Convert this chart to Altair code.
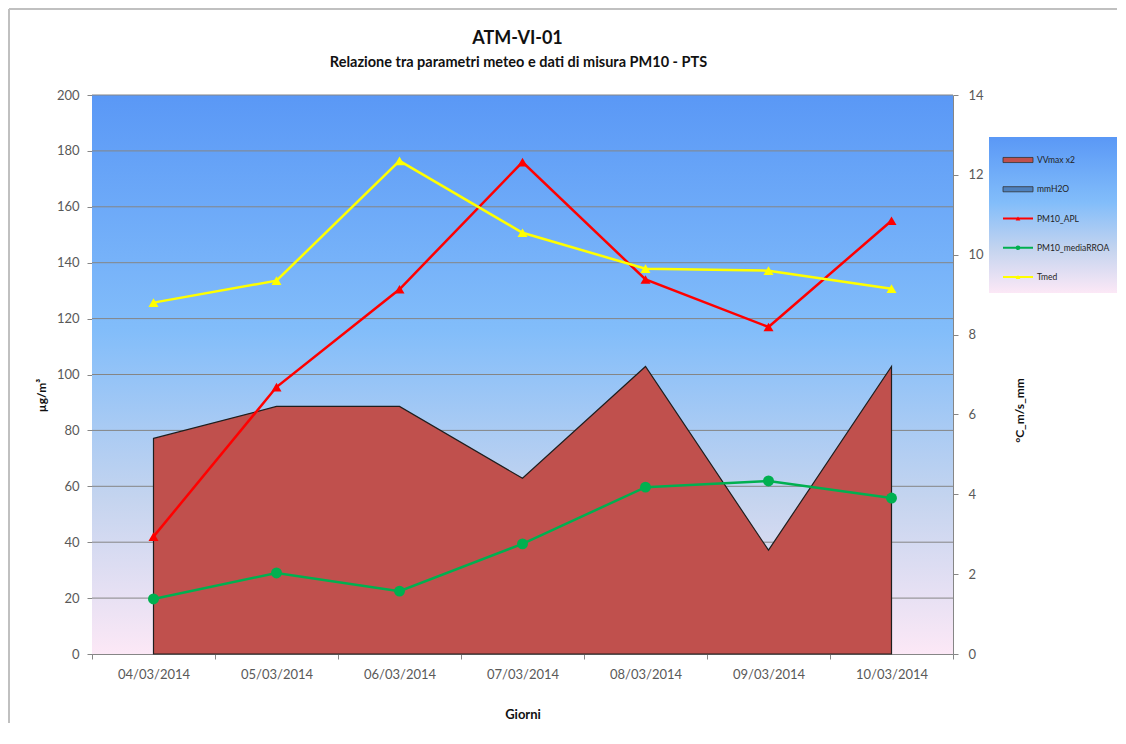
import altair as alt
import pandas as pd

# ---- data ----
dates = ["04/03/2014", "05/03/2014", "06/03/2014", "07/03/2014",
         "08/03/2014", "09/03/2014", "10/03/2014"]
pm10_apl = [42.0, 95.5, 130.5, 176.0, 134.0, 117.0, 155.0]
pm10_media_rroa = [19.7, 29.0, 22.5, 39.4, 59.7, 61.9, 55.8]
tmed = [8.8, 9.35, 12.35, 10.55, 9.65, 9.6, 9.15]
vv_max_x2 = [5.4, 6.2, 6.2, 4.4, 7.2, 2.6, 7.2]
left_ticks = [0, 20, 40, 60, 80, 100, 120, 140, 160, 180, 200]
right_ticks = [0, 2, 4, 6, 8, 10, 12, 14]
grid_values = [20, 40, 60, 80, 100, 120, 140, 160, 180, 200]
legend_labels = ["VVmax x2", "mmH2O", "PM10_APL", "PM10_mediaRROA", "Tmed"]
legend_colors = ["#C0504D", "#4F81BD", "#FF0000", "#00B050", "#FFFF00"]
legend_kind = ["area", "area", "line", "line", "line"]
legend_shape = ["square", "square", "triangle-up", "circle", "triangle-up"]
title_text = "ATM-VI-01"
subtitle_text = "Relazione tra parametri meteo e dati di misura PM10 - PTS"

W, H = 861, 559
FONT = "Lato"

df = pd.DataFrame({
    "Giorno": dates,
    "PM10_APL": pm10_apl,
    "PM10_mediaRROA": pm10_media_rroa,
    "Tmed": tmed,
    "VVmax": vv_max_x2,
})
grid_df = pd.DataFrame({"g": grid_values})
leg_df = pd.DataFrame({"label": legend_labels, "kind": legend_kind,
                       "shape": legend_shape})
one = pd.DataFrame({"a": [0]})

x_axis = alt.Axis(title="Giorni", tickBand="extent", labelAngle=0,
                  labelFont=FONT, labelFontSize=13, labelColor="#595959",
                  labelPadding=9, tickSize=5, tickColor="#868686",
                  domainColor="#868686", titleFont=FONT, titleFontSize=13,
                  titleFontWeight="bold", titleColor="#111111",
                  titleY=60, titleBaseline="middle")
x_enc = alt.X("Giorno:N", sort=dates,
              scale=alt.Scale(type="band", domain=dates, paddingInner=0,
                              paddingOuter=0),
              bandPosition=0.5, axis=x_axis)

def sc(lo, hi):
    return alt.Scale(domain=[lo, hi], nice=False, zero=True)

grad_stops = [
    {"offset": 0, "color": "#5A98F6"},
    {"offset": 0.42, "color": "#82BDFA"},
    {"offset": 0.72, "color": "#C4D4EF"},
    {"offset": 1, "color": "#FCE8F6"},
]
grad = {"gradient": "linear", "x1": 0, "x2": 0, "y1": 0, "y2": 1,
        "stops": grad_stops}

# plot background
bg = alt.Chart(one).mark_rect(fill=grad).encode(
    x=alt.value(0), x2=alt.value(W), y=alt.value(0), y2=alt.value(H))

# gridlines
grid = alt.Chart(grid_df).mark_rule(color="#858585", strokeWidth=1).encode(
    y=alt.Y("g:Q", scale=sc(0, 200), axis=None))

# area VVmax x2 (right axis)
right_axis = alt.Axis(orient="right", values=right_ticks, grid=False,
                      tickSize=5, tickColor="#868686", domainColor="#868686",
                      labelFont=FONT, labelFontSize=13, labelColor="#595959",
                      labelPadding=10, title="°C_m/s_mm", titleFont=FONT,
                      titleFontSize=12, titleFontWeight="bold",
                      titleColor="#111111", titleAngle=270, titleX=66,
                      titleY=315, titleAlign="center", titleBaseline="middle")
area = alt.Chart(df).mark_area(color="#C0504D", stroke="#1E1E1E",
                               strokeWidth=1.2, opacity=1).encode(
    x=x_enc, y=alt.Y("VVmax:Q", scale=sc(0, 14), axis=right_axis))

left_axis = alt.Axis(orient="left", values=left_ticks, grid=False,
                     tickSize=5, tickColor="#868686", domainColor="#868686",
                     labelFont=FONT, labelFontSize=13, labelColor="#595959",
                     labelPadding=8, title="µg/m³", titleFont=FONT,
                     titleFontSize=12, titleFontWeight="bold",
                     titleColor="#111111", titleAngle=270, titleX=-51,
                     titleY=300, titleAlign="center", titleBaseline="middle")

red = alt.Chart(df).mark_line(
    color="#FF0000", strokeWidth=2.5,
    point=alt.OverlayMarkDef(shape="triangle-up", size=100, filled=True,
                             color="#FF0000")).encode(
    x=x_enc, y=alt.Y("PM10_APL:Q", scale=sc(0, 200), axis=left_axis))

green = alt.Chart(df).mark_line(
    color="#00B050", strokeWidth=2.5,
    point=alt.OverlayMarkDef(shape="circle", size=120, filled=True,
                             color="#00B050", opacity=1)).encode(
    x=x_enc, y=alt.Y("PM10_mediaRROA:Q", scale=sc(0, 200), axis=None))

yellow = alt.Chart(df).mark_line(
    color="#FFFF00", strokeWidth=2.5,
    point=alt.OverlayMarkDef(shape="triangle-up", size=100, filled=True,
                             color="#FFFF00")).encode(
    x=x_enc, y=alt.Y("Tmed:Q", scale=sc(0, 14), axis=None))

# ---- legend ----
LX0, LX1, LY0, LY1 = 897, 1025, 42, 198
SX0, SX1, TX = 911, 941, 945
leg_y = alt.Y("label:N", scale=alt.Scale(type="point", domain=legend_labels,
                                         range=[65, 182], padding=0),
              axis=None)
leg_color = alt.Color("label:N", scale=alt.Scale(domain=legend_labels,
                                                 range=legend_colors),
                      legend=None)
leg_bg = alt.Chart(one).mark_rect(fill=grad).encode(
    x=alt.value(LX0), x2=alt.value(LX1), y=alt.value(LY0), y2=alt.value(LY1))
leg_rects = alt.Chart(leg_df).transform_filter(
    alt.datum.kind == "area").mark_point(
    shape="M-1,-0.17H1V0.17H-1Z", size=900, filled=True, opacity=1,
    stroke="#333333", strokeWidth=0.8).encode(
    x=alt.value((SX0 + SX1) / 2), y=leg_y, fill=leg_color)
leg_lines = alt.Chart(leg_df).transform_filter(
    alt.datum.kind == "line").mark_rule(strokeWidth=2).encode(
    x=alt.value(SX0), x2=alt.value(SX1), y=leg_y, color=leg_color)
leg_pts = alt.Chart(leg_df).transform_filter(
    alt.datum.kind == "line").mark_point(filled=True, size=22, opacity=1).encode(
    x=alt.value((SX0 + SX1) / 2), y=leg_y, color=leg_color,
    shape=alt.Shape("shape:N", scale=None, legend=None))
leg_text = alt.Chart(leg_df).mark_text(
    align="left", baseline="middle", font=FONT, fontSize=8.5,
    color="#222222").encode(
    x=alt.value(TX), y=leg_y, text="label:N")

# ---- titles as text ----
t_main = alt.Chart(one).mark_text(
    text=title_text, font=FONT, fontSize=18, fontWeight="bold",
    color="#111111", align="center", baseline="middle").encode(
    x=alt.value(W / 2 - 5), y=alt.value(-56))
t_sub = alt.Chart(one).mark_text(
    text=subtitle_text, font=FONT, fontSize=14.5, fontWeight="bold",
    color="#111111", align="center", baseline="middle").encode(
    x=alt.value(W / 2 - 4), y=alt.value(-32))

# ---- outer chart border (left and top) ----
border_top = alt.Chart(one).mark_rule(color="#C0C0C0", strokeWidth=2).encode(
    x=alt.value(-83), x2=alt.value(1025), y=alt.value(-86))
border_left = alt.Chart(one).mark_rule(color="#C0C0C0", strokeWidth=2).encode(
    x=alt.value(-83), y=alt.value(-86), y2=alt.value(628))

chart = alt.layer(
    bg, grid, area, red, green, yellow,
    leg_bg, leg_rects, leg_lines, leg_pts, leg_text,
    t_main, t_sub, border_top, border_left,
).resolve_scale(y="independent").properties(
    width=W, height=H, padding=0,
).configure_view(strokeWidth=0)

chart.save("out.html", embed_options={"renderer": "svg", "actions": False})
